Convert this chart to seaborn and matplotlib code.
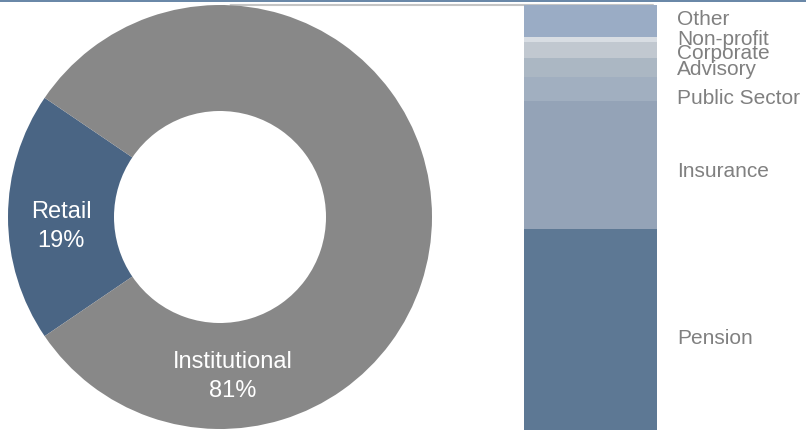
import numpy as np
import pandas as pd
import matplotlib
matplotlib.use("Agg")
import matplotlib.pyplot as plt
from matplotlib.patches import ConnectionPatch, Rectangle
import seaborn as sns

# Client split by channel (donut)
channels = ["Retail", "Institutional"]
channel_share = [19, 81]
channel_colors = ["#4a6584", "#888888"]

# Institutional breakdown by client type (stacked bar, bottom to top)
segments = ["Pension", "Insurance", "Public Sector", "Advisory", "Corporate", "Non-profit", "Other"]
segment_share = [47.3, 30.0, 5.8, 4.4, 3.9, 1.1, 7.5]
segment_colors = ["#5d7894", "#94a3b7", "#a1afc0", "#abb7c3", "#c1c8d0", "#d8dde3", "#9aacc5"]

sns.set_theme(style="white")
plt.rcParams["font.family"] = ["Liberation Sans", "DejaVu Sans"]

W, H = 806, 431
fig = plt.figure(figsize=(W / 100, H / 100), dpi=100)

# Donut
ax_pie = fig.add_axes([8 / W, 1 / H, 424 / W, 424 / H])
start = 180 - channel_share[0] * 360 / 100 / 2
ax_pie.pie(channel_share, colors=channel_colors, startangle=start, counterclock=True,
           radius=1.0, wedgeprops=dict(width=0.5, linewidth=0))
ax_pie.set_xlim(-1, 1)
ax_pie.set_ylim(-1, 1)
label_pos = [(183.0, 0.75), (-85.5, 0.75)]
for name, share, (ang, r) in zip(channels, channel_share, label_pos):
    ax_pie.text(r * np.cos(np.radians(ang)), r * np.sin(np.radians(ang)),
                f"{name}\n{share}%", ha="center", va="center",
                color="white", fontsize=17, linespacing=1.4)

# Stacked bar drawn as overlapping cumulative bars
df = pd.DataFrame({"segment": segments, "share": segment_share, "color": segment_colors})
df["top"] = df["share"].cumsum()
df["mid"] = df["top"] - df["share"] / 2

ax_bar = fig.add_axes([524 / W, 0, 133 / W, 425 / H])
for _, row in df[::-1].iterrows():
    sns.barplot(x=["Institutional"], y=[row["top"]], color=row["color"], width=1.0,
                saturation=1, linewidth=0, ax=ax_bar)
ax_bar.set_xlim(-0.5, 0.5)
ax_bar.set_ylim(0, df["top"].iloc[-1])
ax_bar.axis("off")

# Segment names beside the bar, nudged (pixels) so the small ones stay legible
label_nudge = [-8, -5, -8, -1, -3, 1, 2]
for (_, row), dy in zip(df.iterrows(), label_nudge):
    ax_bar.annotate(row["segment"], xy=(0.5, row["mid"]), xytext=(20, dy),
                    textcoords="offset pixels", ha="left", va="center",
                    color="#808080", fontsize=15, annotation_clip=False)

# Connector from donut top to bar top
con = ConnectionPatch(xyA=(0.05, 1.0), coordsA=ax_pie.transData,
                      xyB=(0.47, df["top"].iloc[-1]), coordsB=ax_bar.transData,
                      color="#c4c4c4", lw=1.5, zorder=0)
fig.add_artist(con)

# Header rule
fig.add_artist(Rectangle((0, 1 - 2.5 / H), 1, 2.5 / H, transform=fig.transFigure,
                         color="#6a88a8", lw=0))

fig.savefig("out.png", dpi=100)
